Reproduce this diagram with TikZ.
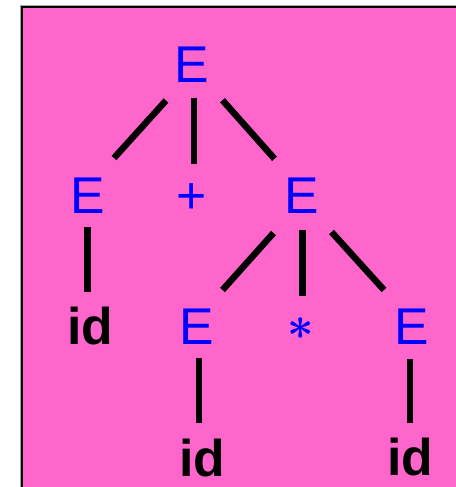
\documentclass[tikz,border=0pt]{standalone}
\usepackage{fontspec}
\setmainfont{Liberation Sans}
\usetikzlibrary{calc}
\definecolor{panelpink}{HTML}{FF66CC}
\definecolor{symblue}{HTML}{0000FF}
\tikzset{
  sym/.style={anchor=base, inner sep=0pt, text=symblue,
    font=\fontsize{51.7}{60}\selectfont},
  term/.style={anchor=base, inner sep=0pt, text=black,
    font=\fontsize{51.7}{60}\selectfont\bfseries},
  op/.style={anchor=base, inner sep=0pt, text=symblue},
  edge/.style={draw=black, line width=6.5pt, line cap=butt}
}
\begin{document}
\begin{tikzpicture}[x=1pt, y=-1pt]
  \useasboundingbox (0,0) rectangle (455,487);
  \fill[white] (0,0) rectangle (455,487);
  % panel
  \fill[panelpink] (22,7) rectangle (470,500);
  \draw[gray!70, line width=1pt] (20.5,500) -- (20.5,5.5) -- (470,5.5);
  \draw[black, line width=2pt] (22,500) -- (22,7) -- (470,7);

  % parse tree symbols
  \node[sym] (root) at (192,82) {E};
  \node[sym] (eL) at (88,213) {E};
  \node[sym] (plus) at (192,213) {+};
  \node[sym] (eR) at (302,213) {E};
  \node[term] (id1) at (90.3,344) {id};
  \node[sym] (eM) at (197,344.5) {E};
  \node[op] (star) at (300.3,339.3) {\scalebox{4.6}{\boldmath$\ast$}};
  \node[sym] (eR3) at (411.3,344.5) {E};
  \node[term] (id2) at (202,476.5) {id};
  \node[term] (id3) at (410.5,475.5) {id};

  % tree edges
  \draw[edge] ($(root.base)+(-26,18.5)$) -- ($(eL.base)+(26,-55)$);
  \draw[edge] ($(root.base)+(2,16.3)$) -- ($(plus.base)+(2,-49)$);
  \draw[edge] ($(root.base)+(30.5,18.2)$) -- ($(eR.base)+(-27.5,-54.2)$);
  \draw[edge] ($(eL.base)+(-0.3,14.3)$) -- ($(id1.base)+(-2.6,-51.7)$);
  \draw[edge] ($(eR.base)+(-28.5,20)$) -- ($(eM.base)+(25.5,-54.5)$);
  \draw[edge] ($(eR.base)+(0.7,17)$) -- ($(star.base)+(2.4,-43.6)$);
  \draw[edge] ($(eR.base)+(29.5,19)$) -- ($(eR3.base)+(-27.3,-54.5)$);
  \draw[edge] ($(eM.base)+(2,13.8)$) -- ($(id2.base)+(-3,-53.2)$);
  \draw[edge] ($(eR3.base)+(-1.3,14.5)$) -- ($(id3.base)+(-0.5,-52.2)$);
\end{tikzpicture}
\end{document}
